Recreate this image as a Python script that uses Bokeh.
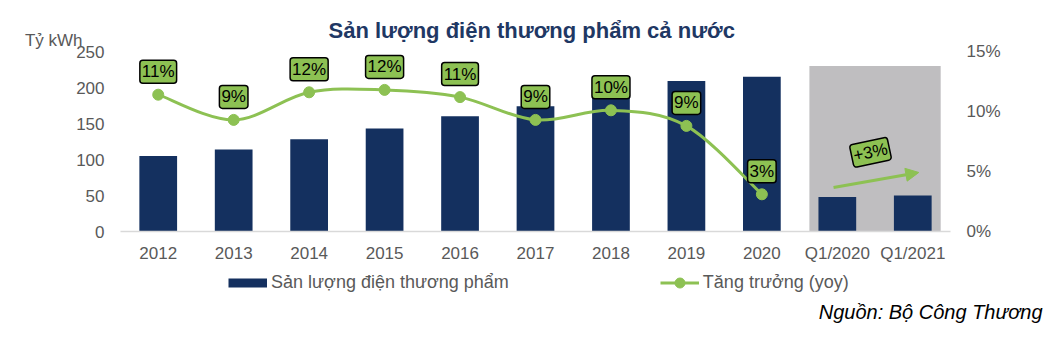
from bokeh.plotting import figure
from bokeh.layouts import column
from bokeh.models import (Range1d, LinearAxis, FixedTicker, Label, Legend, LegendItem,
                          Arrow, NormalHead, ColumnDataSource, Title)
from bokeh.embed import file_html
from bokeh.resources import INLINE
from bokeh.core.properties import value

# ---------------- data ----------------
categories = ["2012", "2013", "2014", "2015", "2016", "2017", "2018", "2019", "2020",
              "Q1/2020", "Q1/2021"]
output_bkwh = [105, 114, 128, 143, 160, 174, 192, 209, 215, 48, 50]
growth_categories = ["2012", "2013", "2014", "2015", "2016", "2017", "2018", "2019", "2020"]
growth_pct = [11.4, 9.3, 11.6, 11.8, 11.2, 9.3, 10.1, 8.8, 3.1]
growth_labels = ["11%", "9%", "12%", "12%", "11%", "9%", "10%", "9%", "3%"]
left_ticks = [0, 50, 100, 150, 200, 250]
right_ticks = [0, 5, 10, 15]
q1_change_label = "+3%"

title_text = "Sản lượng điện thương phẩm cả nước"
unit_text = "Tỷ kWh"
bar_name = "Sản lượng điện thương phẩm"
line_name = "Tăng trưởng (yoy)"
source_text = "Nguồn: Bộ Công Thương"

# ---------------- style ----------------
NAVY = "#14305F"
GREEN = "#8DC153"
GREY_BOX = "#BFBEC0"
TICK_COLOR = "#595959"
TITLE_COLOR = "#1F3864"
FONT = "Liberation Sans"
NAN = float("nan")

W = 1058
MAIN_H = 265
FOOT_H = 339 - MAIN_H

# plot area: value axis 0..250 spans 180 px; frame runs up to the top of the canvas
FRAME_H = 231
AXIS_PX = 180
y_top = 250 * FRAME_H / AXIS_PX
pct_top = 15 * FRAME_H / AXIS_PX

idx = {c: i for i, c in enumerate(categories)}
bar_x = [idx[c] for c in categories]
line_x = [idx[c] for c in growth_categories]

p = figure(width=W, height=MAIN_H, output_backend="svg", toolbar_location=None,
           x_range=Range1d(-0.5, len(categories) - 0.5), y_range=Range1d(0, y_top),
           x_axis_location=None, y_axis_location=None,
           min_border_left=120, min_border_right=108, min_border_top=0,
           min_border_bottom=MAIN_H - FRAME_H)
p.extra_y_ranges = {"pct": Range1d(0, pct_top)}
p.outline_line_color = None
p.xgrid.visible = False
p.ygrid.visible = False
p.background_fill_color = "white"
p.border_fill_color = "white"

# axes
def style_axis(ax):
    ax.major_tick_line_color = None
    ax.minor_tick_line_color = None
    ax.major_label_text_font = FONT
    ax.major_label_text_font_size = "17px"
    ax.major_label_text_color = TICK_COLOR

xaxis = LinearAxis(ticker=FixedTicker(ticks=bar_x),
                   major_label_overrides={i: c for i, c in enumerate(categories)})
style_axis(xaxis)
xaxis.axis_line_color = "#D9D9D9"
xaxis.axis_line_width = 1.5
xaxis.major_label_standoff = 6
p.add_layout(xaxis, "below")

laxis = LinearAxis(ticker=FixedTicker(ticks=left_ticks))
style_axis(laxis)
laxis.axis_line_color = None
laxis.major_label_standoff = 10
p.add_layout(laxis, "left")

# unit caption, set as a one-tick axis just above the 250 tick
unit_y = 265
uaxis = LinearAxis(ticker=FixedTicker(ticks=[unit_y]), major_label_overrides={unit_y: unit_text})
style_axis(uaxis)
uaxis.axis_line_color = None
uaxis.major_label_standoff = -15
p.add_layout(uaxis, "left")

raxis = LinearAxis(y_range_name="pct", ticker=FixedTicker(ticks=right_ticks),
                   major_label_overrides={t: f"{t}%" for t in right_ticks})
style_axis(raxis)
raxis.axis_line_color = None
raxis.major_label_standoff = 10
p.add_layout(raxis, "right")

# grey highlight behind quarterly bars
q_left = idx["Q1/2020"] - 0.37
q_right = idx["Q1/2021"] + 0.37
p.quad(left=[q_left], right=[q_right], bottom=[0], top=[230],
       fill_color=GREY_BOX, line_color=None)

# bars
bar_src = ColumnDataSource(dict(x=bar_x, top=output_bkwh))
p.vbar(x="x", top="top", width=0.5, source=bar_src, fill_color=NAVY, line_color=None)

# smooth growth line (Catmull-Rom -> cubic Bezier through the data points)
n = len(growth_pct)
seg = dict(x0=[], y0=[], x1=[], y1=[], cx0=[], cy0=[], cx1=[], cy1=[])
for i in range(n - 1):
    a = max(i - 1, 0)
    d = min(i + 2, n - 1)
    seg["x0"].append(line_x[i]); seg["y0"].append(growth_pct[i])
    seg["x1"].append(line_x[i + 1]); seg["y1"].append(growth_pct[i + 1])
    seg["cx0"].append(line_x[i] + (line_x[i + 1] - line_x[a]) / 6)
    seg["cy0"].append(growth_pct[i] + (growth_pct[i + 1] - growth_pct[a]) / 6)
    seg["cx1"].append(line_x[i + 1] - (line_x[d] - line_x[i]) / 6)
    seg["cy1"].append(growth_pct[i + 1] - (growth_pct[d] - growth_pct[i]) / 6)
p.bezier(x0="x0", y0="y0", x1="x1", y1="y1", cx0="cx0", cy0="cy0", cx1="cx1", cy1="cy1",
         source=ColumnDataSource(seg), y_range_name="pct", line_color=GREEN, line_width=3)

pt_src = ColumnDataSource(dict(x=line_x, y=growth_pct, label=growth_labels))
p.scatter(x="x", y="y", source=pt_src, y_range_name="pct", size=11,
          fill_color=GREEN, line_color=GREEN)

p.text(x="x", y="y", text="label", source=pt_src, y_range_name="pct",
       text_align="center", text_baseline="middle", y_offset=-23,
       text_font=value(FONT), text_font_size="17px", text_color="black",
       background_fill_color=GREEN, border_line_color="black", border_line_width=1.5,
       padding=2, border_radius=3)

# arrow and +3% label in the grey area
p.add_layout(Arrow(x_start=8.95, y_start=61, x_end=10.08, y_end=82,
                   line_color=GREEN, line_width=3,
                   end=NormalHead(size=13, fill_color=GREEN, line_color=GREEN)))
p.add_layout(Label(x=9.44, y=110, text=q1_change_label, angle=0.21,
                   text_align="center", text_baseline="middle",
                   text_font=FONT, text_font_size="17px", text_color="black",
                   background_fill_color=GREEN, border_line_color="black",
                   border_line_width=1.5, padding=2, border_radius=3))

# chart title
p.add_layout(Label(x=4.95, y=279, text=title_text, text_align="center", text_baseline="middle",
                   text_font=FONT, text_font_size="22px", text_font_style="bold",
                   text_color=TITLE_COLOR))

# ---------------- footer: legend + source ----------------
FOOT_FRAME_H = 29
f = figure(width=W, height=FOOT_H, output_backend="svg", toolbar_location=None,
           x_range=Range1d(0, 1), y_range=Range1d(0, 1),
           x_axis_location=None, y_axis_location=None,
           min_border_left=120, min_border_right=108, min_border_top=0,
           min_border_bottom=FOOT_H - FOOT_FRAME_H)
f.outline_line_color = None
f.xgrid.visible = False
f.ygrid.visible = False
f.background_fill_color = "white"
f.border_fill_color = "white"

leg_bar = f.line(x=[NAN], y=[NAN], line_color=NAVY, line_width=9, line_cap="butt")
leg_line = f.line(x=[NAN], y=[NAN], line_color=GREEN, line_width=3)
leg_dot = f.scatter(x=[NAN], y=[NAN], fill_color=GREEN, line_color=GREEN)
LEG_H = 25
legend = Legend(items=[LegendItem(label=bar_name, renderers=[leg_bar]),
                       LegendItem(label=line_name, renderers=[leg_line, leg_dot])],
                location=(108, FOOT_FRAME_H - 5 - LEG_H), orientation="horizontal",
                glyph_width=39, glyph_height=LEG_H, label_height=LEG_H, label_standoff=4,
                padding=0, margin=0, spacing=151, border_line_color=None,
                background_fill_alpha=0, label_text_font=FONT,
                label_text_font_size="18px", label_text_color=TICK_COLOR)
f.add_layout(legend, "center")

src_title = Title(text=source_text, align="right", offset=-92, standoff=12,
                  vertical_align="top",
                  text_font=FONT, text_font_size="20px", text_font_style="italic",
                  text_color="black")
f.add_layout(src_title, "below")

layout = column(p, f, spacing=0)
open("out.html", "w").write(file_html(layout, INLINE))
